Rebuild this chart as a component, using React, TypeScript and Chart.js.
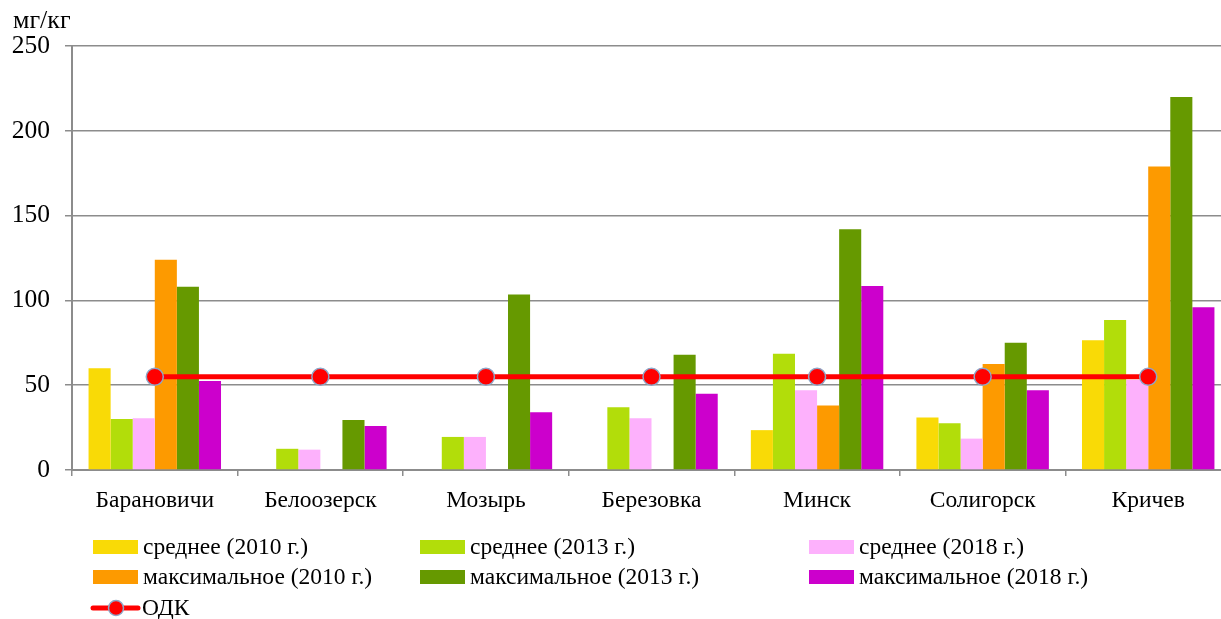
import React, { useEffect, useRef } from "react";
import { Chart, registerables } from "chart.js";

Chart.register(...registerables);

const categories = ["Барановичи", "Белоозерск", "Мозырь", "Березовка", "Минск", "Солигорск", "Кричев"];
const seriesLabels = [
  "среднее (2010 г.)",
  "среднее (2013 г.)",
  "среднее (2018 г.)",
  "максимальное (2010 г.)",
  "максимальное (2013 г.)",
  "максимальное (2018 г.)",
];
const lineLabel = "ОДК";
const unitLabel = "мг/кг";

const avg2010 = [60, null, null, null, 23.5, 31, 76.5];
const avg2013 = [30, 12.5, 19.5, 37, 68.5, 27.5, 88.5];
const avg2018 = [30.5, 12, 19.5, 30.5, 47, 18.5, 53];
const max2010 = [124, null, null, null, 38, 62.5, 179];
const max2013 = [108, 29.5, 103.5, 68, 142, 75, 220];
const max2018 = [52.5, 26, 34, 45, 108.5, 47, 96];
const odk = [55, 55, 55, 55, 55, 55, 55];

const yMin = 0;
const yMax = 250;
const yStep = 50;

const colors = ["#F9DA06", "#B2DD0A", "#FDB1FC", "#FD9A00", "#669900", "#CC00CC"];
const FONT = "'Liberation Serif', 'Times New Roman', serif";

const legendPlugin = {
  id: "customLegend",
  afterDraw(chart: any) {
    const ctx = chart.ctx;
    ctx.save();
    ctx.fillStyle = "#000";
    ctx.font = `26px ${FONT}`;
    ctx.textBaseline = "alphabetic";
    ctx.textAlign = "left";
    ctx.fillText(unitLabel, 13, 28);

    const colX = [93, 420, 809];
    const rowY = [547, 577, 608];
    const ds = chart.data.datasets;
    ctx.font = `23.5px ${FONT}`;
    ctx.textBaseline = "middle";
    for (let i = 0; i < 6; i++) {
      const d = ds[i];
      const x = colX[i % 3];
      const y = rowY[Math.floor(i / 3)];
      ctx.fillStyle = d.backgroundColor;
      ctx.fillRect(x, y - 7, 45, 14);
      ctx.fillStyle = "#000";
      ctx.fillText(d.label, x + 50, y + 1);
    }
    const l = ds[6];
    const y = rowY[2];
    ctx.strokeStyle = l.borderColor;
    ctx.lineWidth = 5;
    ctx.lineCap = "round";
    ctx.beginPath();
    ctx.moveTo(93, y);
    ctx.lineTo(138, y);
    ctx.stroke();
    ctx.beginPath();
    ctx.arc(116, y, 7.5, 0, Math.PI * 2);
    ctx.fillStyle = l.pointBackgroundColor;
    ctx.fill();
    ctx.lineWidth = 1.5;
    ctx.strokeStyle = l.pointBorderColor;
    ctx.stroke();
    ctx.fillStyle = "#000";
    ctx.fillText(l.label, 142, y + 1);
    ctx.restore();
  },
};

export default function App() {
  const ref = useRef<HTMLCanvasElement | null>(null);
  useEffect(() => {
    if (!ref.current) return;
    const seriesData = [avg2010, avg2013, avg2018, max2010, max2013, max2018];
    const chart = new Chart(ref.current, {
      type: "bar",
      data: {
        labels: categories,
        datasets: [
          ...seriesData.map((d, i) => ({
            type: "bar" as const,
            label: seriesLabels[i],
            data: d,
            backgroundColor: colors[i],
            borderWidth: 0,
            categoryPercentage: 0.8,
            barPercentage: 1.0,
            order: 1,
          })),
          {
            type: "line" as const,
            label: lineLabel,
            data: odk,
            borderColor: "#FF0000",
            borderWidth: 5,
            pointRadius: 8.5,
            pointBackgroundColor: "#FF0000",
            pointBorderColor: "#8EA6C8",
            pointBorderWidth: 1.5,
            order: 0,
          },
        ],
      },
      options: {
        responsive: false,
        animation: false,
        devicePixelRatio: 1,
        layout: { autoPadding: false, padding: { top: 46, right: 1, left: 0, bottom: 0 } },
        plugins: {
          legend: { display: false },
          tooltip: { enabled: false },
          title: { display: false },
        },
        scales: {
          x: {
            grid: {
              display: true,
              drawOnChartArea: false,
              drawTicks: true,
              tickLength: 6,
              color: "#8c8c8c",
              lineWidth: 1.5,
            },
            border: { display: true, color: "#8c8c8c", width: 2 },
            ticks: {
              color: "#000",
              font: { family: FONT, size: 23.5 },
              padding: 11,
              maxRotation: 0,
            },
            afterFit: (s: any) => {
              s.height = 619 - 470;
            },
          },
          y: {
            min: yMin,
            max: yMax,
            ticks: {
              stepSize: yStep,
              color: "#000",
              font: { family: FONT, size: 25.5 },
              padding: 15,
            },
            grid: {
              color: "#8c8c8c",
              lineWidth: 1.5,
              tickLength: 7,
            },
            border: { display: true, color: "#8c8c8c", width: 2 },
            afterFit: (s: any) => {
              s.width = 72;
            },
          },
        },
      },
      plugins: [legendPlugin],
    });
    return () => chart.destroy();
  }, []);
  return (
    <div
      style={{
        position: "fixed",
        left: 0,
        top: 0,
        width: 1221,
        height: 619,
        overflow: "hidden",
        background: "#fff",
      }}
    >
      <div style={{ width: 1232, height: 619 }}>
        <canvas ref={ref} width={1232} height={619} style={{ display: "block" }} />
      </div>
    </div>
  );
}
